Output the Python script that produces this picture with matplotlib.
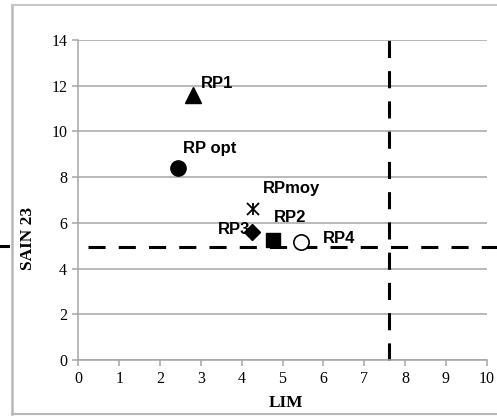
import matplotlib
matplotlib.use('Agg')
import matplotlib.pyplot as plt
from matplotlib.lines import Line2D

# points
labels = ['RP1', 'RP opt', 'RPmoy', 'RP3', 'RP2', 'RP4']
lim = [2.82, 2.44, 4.27, 4.25, 4.76, 5.46]
sain23 = [11.6, 8.4, 6.6, 5.6, 5.25, 5.15]

x_threshold = 7.6
y_threshold = 4.95

xticks = list(range(0, 11))
yticks = list(range(0, 15, 2))

GRAY = '#a6a6a6'

fig = plt.figure(figsize=(4.97, 4.16), dpi=100)
ax = fig.add_axes([0.1576, 0.1346, 0.8217, 0.7692])

ax.set_xlim(0, 10)
ax.set_ylim(0, 14)
ax.set_xticks(xticks)
ax.set_yticks(yticks)
ax.grid(axis='y', color=GRAY, linewidth=1.1)
ax.set_axisbelow(True)
for s in ['top', 'right']:
    ax.spines[s].set_visible(False)
for s in ['left', 'bottom']:
    ax.spines[s].set_color(GRAY)
    ax.spines[s].set_linewidth(1.1)
ax.tick_params(direction='out', color=GRAY, width=1.1, length=4,
               labelsize=11.5, pad=4)
for lab in ax.get_xticklabels() + ax.get_yticklabels():
    lab.set_fontfamily('Liberation Serif')

# threshold lines
dash = (0, (5.6, 4.3))
ax.plot([x_threshold, x_threshold], [0, 14], color='black', lw=2.2,
        linestyle=dash, clip_on=False, zorder=2)
ax.plot([0.24, 10.3], [y_threshold, y_threshold], color='black', lw=2.2,
        linestyle=dash, clip_on=False, zorder=2)

# markers
ms = 11
ax.plot(lim[0], sain23[0], marker='^', color='black', ms=ms, ls='none', zorder=3)
ax.plot(lim[1], sain23[1], marker='o', color='black', ms=ms, ls='none', zorder=3)
ax.plot(lim[2], sain23[2], marker='x', color='black', ms=9, mew=1.3, ls='none', zorder=3)
ax.plot(lim[2], sain23[2], marker='|', color='black', ms=9, mew=1.3, ls='none', zorder=3)
ax.plot(lim[3], sain23[3], marker='D', color='black', ms=8, ls='none', zorder=4)
ax.plot(lim[4], sain23[4], marker='s', color='black', ms=10, ls='none', zorder=3)
ax.plot(lim[5], sain23[5], marker='o', markerfacecolor='white',
        markeredgecolor='black', mew=1.2, ms=11, ls='none', zorder=3)

# label offsets in pixels (dx, dy)
offsets = [(7, 11), (5, 20), (10, 21), (-34, 3), (1, 23), (22, 4)]
for name, x, y, off in zip(labels, lim, sain23, offsets):
    ax.annotate(name, xy=(x, y), xytext=off, textcoords='offset pixels',
                ha='left', va='center', fontsize=12, fontweight='bold',
                family='Liberation Sans', zorder=3.5)

# axis titles
fig.text(286 / 497, 1 - 403 / 416, 'LIM', ha='center', va='center',
         fontsize=12.5, fontweight='bold', family='Liberation Serif')
fig.text(28 / 497, 1 - 238 / 416, 'SAIN 23', ha='center', va='center',
         rotation=90, fontsize=12.5, fontweight='bold', family='Liberation Serif')

# outer frame and stray dash on the left
fy = lambda py: 1 - py / 416
fx = lambda px: px / 497
fig.add_artist(Line2D([fx(12), fx(12)], [fy(5), fy(414)], color='#b8b8b8', lw=1.8))
fig.add_artist(Line2D([fx(12), 1], [fy(5), fy(5)], color='#c8c8c8', lw=1.5))
fig.add_artist(Line2D([fx(12), 1], [fy(414), fy(414)], color='#b8b8b8', lw=1.5))
fig.add_artist(Line2D([0, fx(8)], [fy(246.5), fy(246.5)], color='black', lw=2.2))

fig.savefig('out.png', dpi=100)
